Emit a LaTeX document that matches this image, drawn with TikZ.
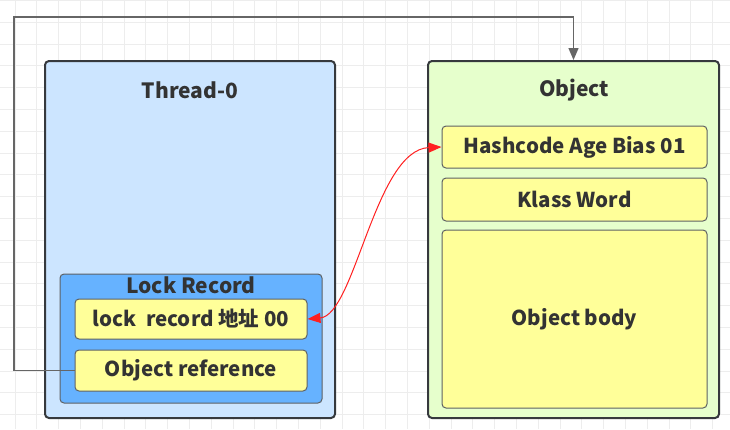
\documentclass[tikz,border=0pt]{standalone}
\usepackage{fontspec}
\setmainfont{Noto Sans CJK SC}
\usetikzlibrary{arrows.meta}

\definecolor{cThread}{HTML}{CCE5FF}
\definecolor{cObject}{HTML}{E6FFCC}
\definecolor{cLock}{HTML}{66B2FF}
\definecolor{cField}{HTML}{FFFF99}
\definecolor{cEdge}{HTML}{36393D}
\definecolor{cText}{HTML}{333333}
\definecolor{cGrid}{HTML}{EDEDED}
\definecolor{cPtr}{HTML}{FF2020}

\tikzset{
  outerbox/.style={draw=cEdge,line width=2pt,rounded corners=4pt},
  fieldbox/.style={draw=cEdge!80,line width=1pt,fill=cField,rounded corners=4pt,
    text=cText,font=\fontsize{20.5}{24}\selectfont\bfseries},
  titletext/.style={text=cText,font=\fontsize{21}{25}\selectfont\bfseries},
  refline/.style={draw=black!60,line width=1.3pt,-{Triangle[length=12pt,width=10pt]}},
  ptrline/.style={draw=cPtr,line width=1pt,
    {Triangle[length=13pt,width=10pt]}-{Triangle[length=13pt,width=10pt]}}
}

\begin{document}
\begin{tikzpicture}[x=1pt,y=-1pt]

\useasboundingbox (0,0) rectangle (730,429);
\fill[white] (0,0) rectangle (730,429);
% canvas grid
\foreach \g in {0,...,33}
{
    \draw[cGrid,line width=0.8pt] (15+21.8*\g,0) -- (15+21.8*\g,429);
};
\foreach \g in {0,...,19}
{
    \draw[cGrid,line width=0.8pt] (0,0.4+21.8*\g) -- (730,0.4+21.8*\g);
};

\coordinate (cThreadPt) at (190,239.5);
\coordinate (cObjectPt) at (573.5,239.5);
\coordinate (cLockPt) at (191,338.5);
\coordinate (cTopPt) at (14,17);

\node[outerbox,fill=cThread,minimum width=290pt,minimum height=357pt] (thread) at (cThreadPt) {};
\node[outerbox,fill=cObject,minimum width=291pt,minimum height=357pt] (object) at (cObjectPt) {};
\node[titletext] (threadTitle) at (190,90) {Thread-0};
\node[titletext] (objectTitle) at (574,90) {Object};

\node[draw=cEdge!80,line width=1pt,fill=cLock,rounded corners=4pt,
      minimum width=262pt,minimum height=129pt] (lockRec) at (cLockPt) {};
\node[titletext] (lockTitle) at (191,285) {Lock Record};

\foreach \n/\x/\y/\w/\h/\t in
{   hash/574.5/147/265/42/Hashcode Age Bias 01,
    klass/574.5/199.5/265/43/Klass Word,
    body/574.5/319/265/178/Object body,
    lockAddr/191/319/232/40/lock\ \ record 地址 00,
    objRef/191/370.5/232/41/Object reference
}
{
    \node[fieldbox,minimum width=\w pt,minimum height=\h pt] (\n) at (\x,\y) {\t};
};

\draw[refline] (objRef.west) -| (cTopPt) -| (object.north);
\draw[ptrline] (lockAddr.east) .. controls (355,315) and (375,150) .. (hash.west);

\end{tikzpicture}
\end{document}
